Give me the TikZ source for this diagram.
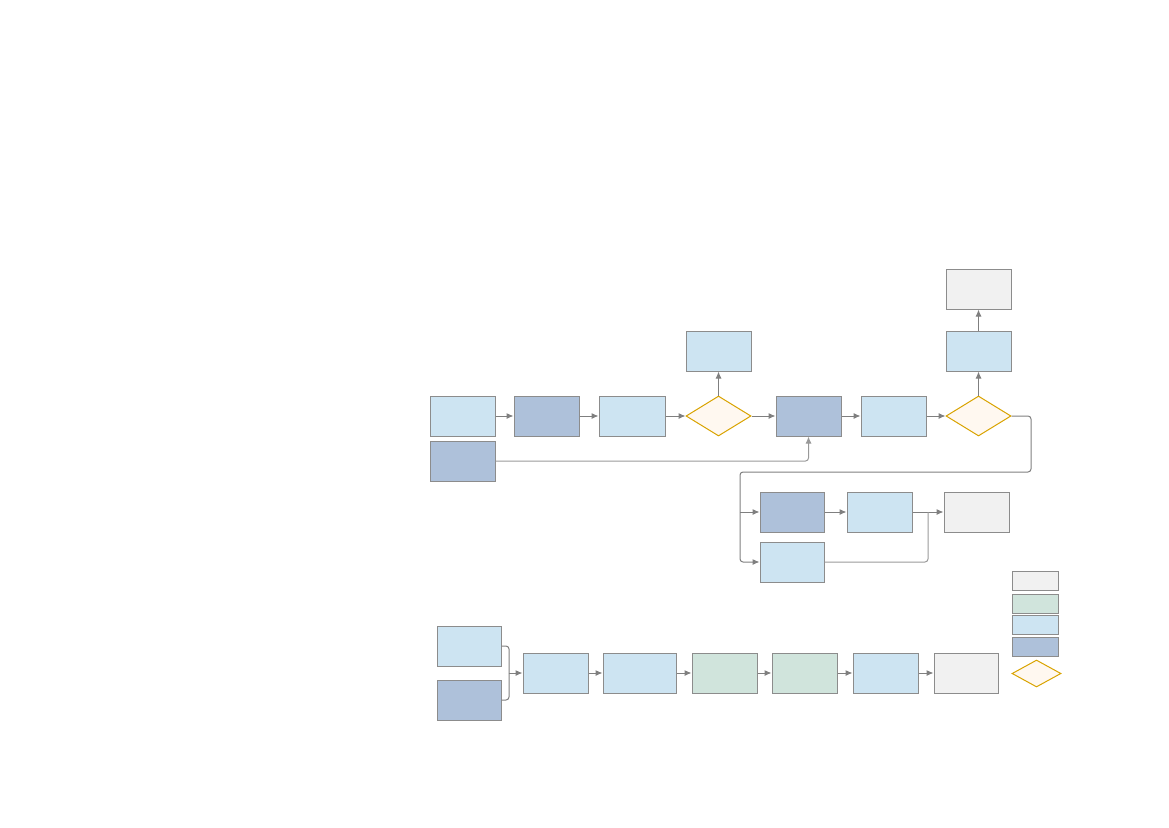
\documentclass[tikz,border=0pt]{standalone}
\usetikzlibrary{shapes.geometric,arrows.meta}
\definecolor{lb}{HTML}{CDE4F2}
\definecolor{db}{HTML}{AEC1DA}
\definecolor{gy}{HTML}{F1F1F1}
\definecolor{gn}{HTML}{D0E4DC}
\definecolor{df}{HTML}{FFF8F0}
\definecolor{dd}{HTML}{D9A300}
\definecolor{bd}{HTML}{8C8C8C}
\definecolor{ln}{HTML}{7F7F7F}
\tikzset{
  box/.style={rectangle,draw=bd,line width=1pt,inner sep=0pt,minimum width=65pt,minimum height=40pt},
  lbox/.style={box,fill=lb},
  dbox/.style={box,fill=db},
  gbox/.style={box,fill=gy},
  nbox/.style={box,fill=gn},
  dec/.style={diamond,draw=dd,fill=df,line width=1pt,inner sep=0pt,minimum width=65pt,minimum height=40pt},
  conn/.style={draw=ln,line width=1pt,rounded corners=3pt,-{Latex[length=7pt,width=6pt]}},
  plain/.style={draw=ln,line width=1pt,rounded corners=3pt},
}
\begin{document}
\begin{tikzpicture}[x=1pt,y=-1pt]
\useasboundingbox (0,0) rectangle (1169,827);
% row 1
\node[lbox] (A1) at (462.5,416) {};
\node[dbox] (A2) at (546.5,416) {};
\node[lbox,minimum width=66pt] (A3) at (632,416) {};
\node[dec] (D1) at (718.5,416) {};
\node[lbox] (T1) at (718.5,351) {};
\node[dbox] (A4) at (808.5,416) {};
\node[lbox] (A5) at (893.5,416) {};
\node[dec] (D2) at (978.5,416) {};
\node[lbox] (T2) at (978.5,351) {};
\node[gbox] (T3) at (978.5,289) {};
\node[dbox] (B1) at (462.5,461) {};
% row 2
\node[dbox,minimum width=64pt] (C1) at (792,512) {};
\node[lbox] (C3) at (879.5,512) {};
\node[gbox] (C4) at (976.5,512) {};
\node[lbox,minimum width=64pt] (C2) at (792,562) {};
% bottom row
\node[lbox,minimum width=64pt] (E1) at (469,646) {};
\node[dbox,minimum width=64pt] (E2) at (469,700) {};
\node[lbox] (F1) at (555.5,673) {};
\node[lbox,minimum width=73pt] (F2) at (639.5,673) {};
\node[nbox] (F3) at (724.5,673) {};
\node[nbox] (F4) at (804.5,673) {};
\node[lbox] (F5) at (885.5,673) {};
\node[gbox,minimum width=64pt] (F6) at (966,673) {};
% legend
\node[gbox,minimum width=46pt,minimum height=19pt] (L1) at (1035,580.5) {};
\node[nbox,minimum width=46pt,minimum height=19pt] (L2) at (1035,603.5) {};
\node[lbox,minimum width=46pt,minimum height=19pt] (L3) at (1035,624.5) {};
\node[dbox,minimum width=46pt,minimum height=19pt] (L4) at (1035,646.5) {};
\node[dec,minimum width=49pt,minimum height=27pt] (L5) at (1036.5,673.5) {};
% junction points
\coordinate (j1) at (1031,472);
\coordinate (j2) at (740,472);
\coordinate (jc) at (928,512);
\coordinate (jm) at (509,673);
% connectors row 1
\draw[conn] (A1.east) -- (A2.west);
\draw[conn] (A2.east) -- (A3.west);
\draw[conn] (A3.east) -- (D1.west);
\draw[conn] (D1.north) -- (T1.south);
\draw[conn] (D1.east) -- (A4.west);
\draw[conn] (A4.east) -- (A5.west);
\draw[conn] (A5.east) -- (D2.west);
\draw[conn] (D2.north) -- (T2.south);
\draw[conn] (T2.north) -- (T3.south);
\draw[conn,draw=ln!80] (B1.east) -| (A4.south);
% to row 2
\draw[conn] (D2.east) -| (j1) -- (j2) |- (C2.west);
\draw[conn] (j2 |- C1.west) -- (C1.west);
\draw[conn] (C1.east) -- (C3.west);
\draw[conn] (C3.east) -- (C4.west);
\draw[plain,draw=ln!80] (C2.east) -| (jc);
% bottom
\draw[plain] (E1.east) -| (jm);
\draw[plain] (E2.east) -| (jm);
\draw[conn] (jm) -- (F1.west);
\draw[conn] (F1.east) -- (F2.west);
\draw[conn] (F2.east) -- (F3.west);
\draw[conn] (F3.east) -- (F4.west);
\draw[conn] (F4.east) -- (F5.west);
\draw[conn] (F5.east) -- (F6.west);
\end{tikzpicture}
\end{document}
